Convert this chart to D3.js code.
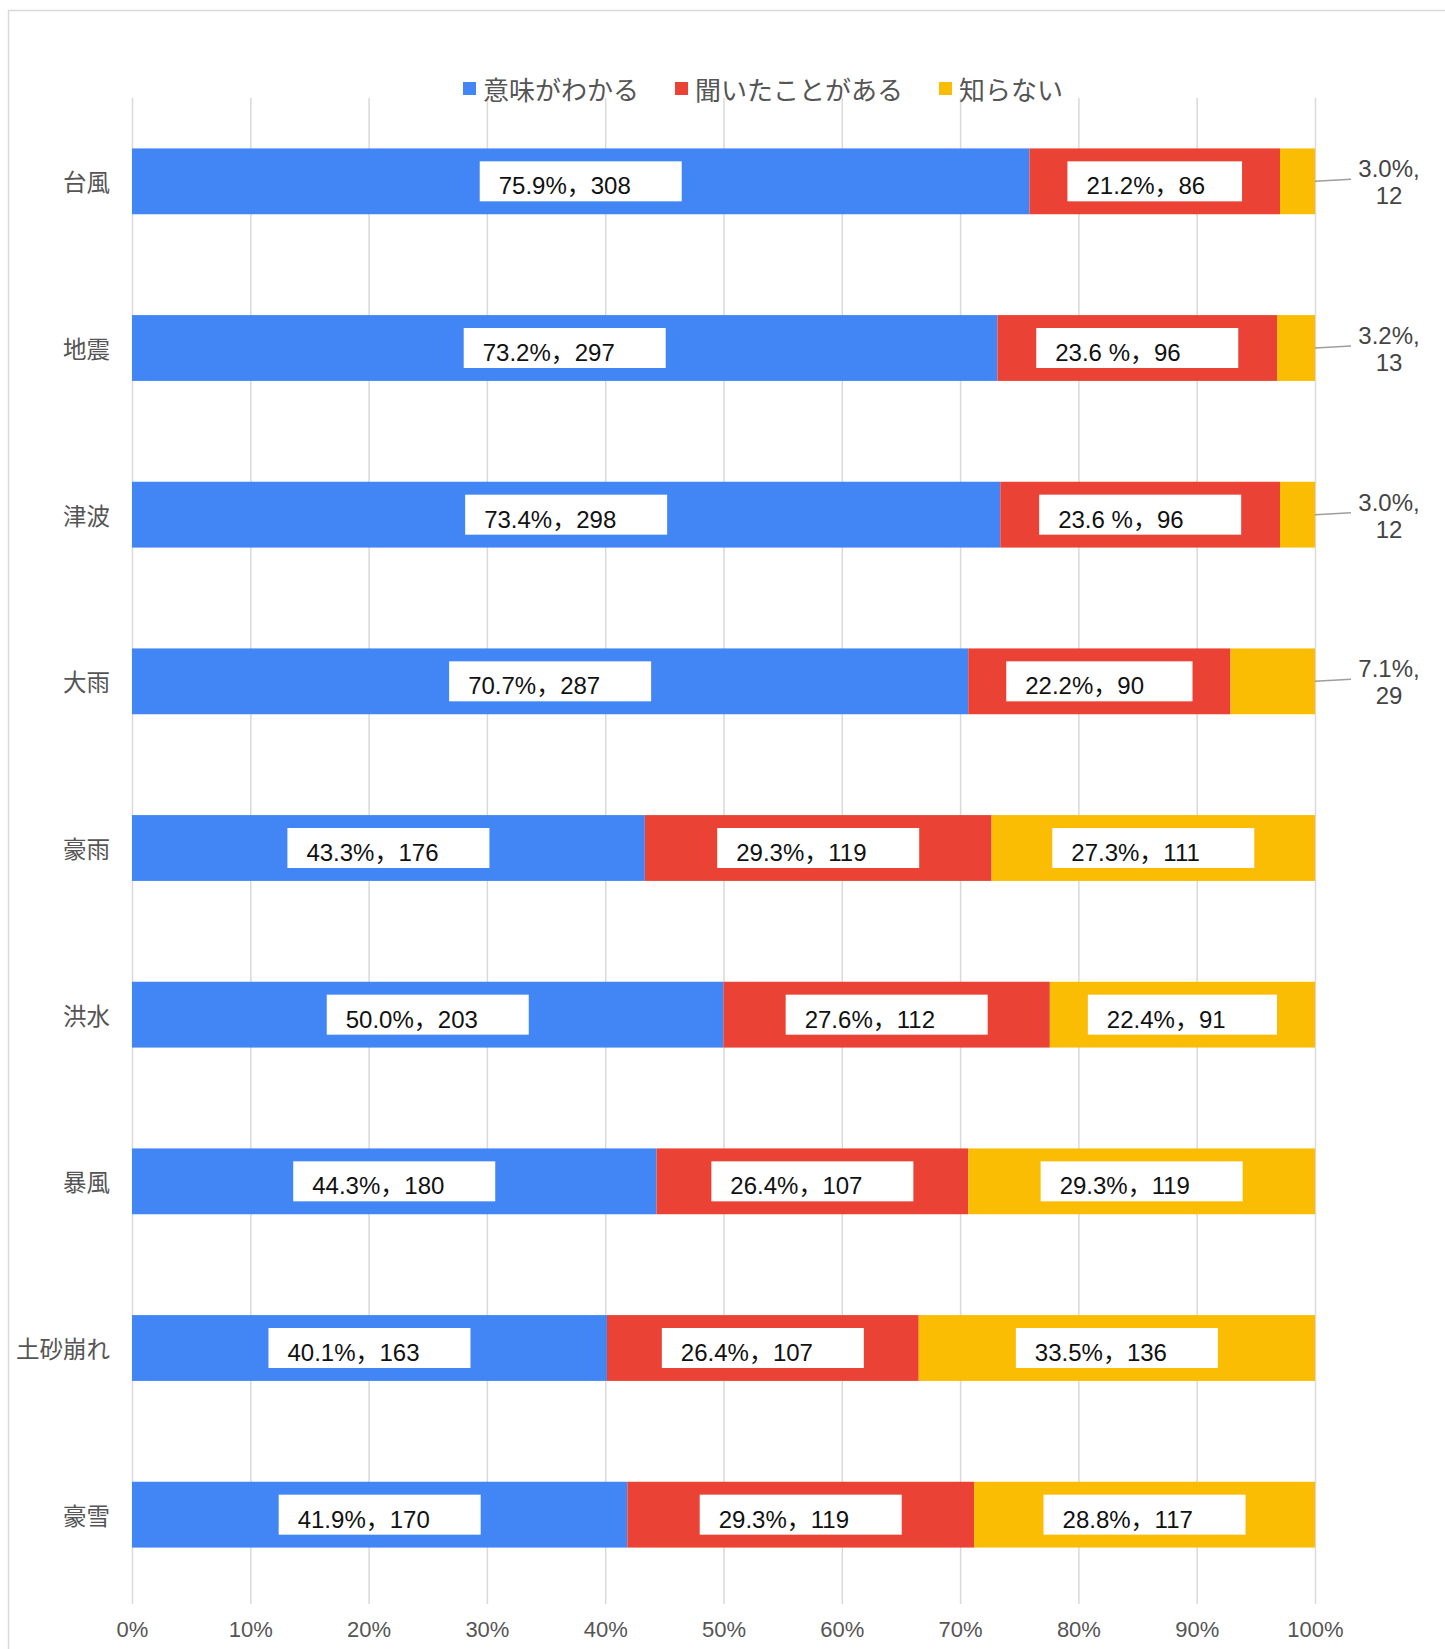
<!DOCTYPE html>
<html>
<head>
<meta charset="utf-8">
<script src="https://cdn.jsdelivr.net/npm/d3@7"></script>
<style>
  body { margin: 0; background: #fff; }
  svg { display: block; }
  text { font-family: "Liberation Sans", Arial, "Noto Sans CJK JP", sans-serif; }
  .cjk { font-family: "Noto Sans CJK JP", "Liberation Sans", sans-serif; }
</style>
</head>
<body>
<svg id="chart" width="1445" height="1649"></svg>
<script>
// categories (top to bottom)
const categories = ['台風', '地震', '津波', '大雨', '豪雨', '洪水', '暴風', '土砂崩れ', '豪雪'];

// series names
const seriesNames = ['意味がわかる', '聞いたことがある', '知らない'];
const seriesColors = ['#4285F4', '#EA4335', '#FBBC04'];

// respondent counts per series
const knowCounts = [308, 297, 298, 287, 176, 203, 180, 163, 170];
const heardCounts = [86, 96, 96, 90, 119, 112, 107, 107, 119];
const unknownCounts = [12, 13, 12, 29, 111, 91, 119, 136, 117];

// percentage labels as printed on the chart
const knowPct = ['75.9%', '73.2%', '73.4%', '70.7%', '43.3%', '50.0%', '44.3%', '40.1%', '41.9%'];
const heardPct = ['21.2%', '23.6 %', '23.6 %', '22.2%', '29.3%', '27.6%', '26.4%', '26.4%', '29.3%'];
const unknownPct = ['3.0%', '3.2%', '3.0%', '7.1%', '27.3%', '22.4%', '29.3%', '33.5%', '28.8%'];

// x axis ticks
const tickValues = [0, 0.1, 0.2, 0.3, 0.4, 0.5, 0.6, 0.7, 0.8, 0.9, 1];

const counts = [knowCounts, heardCounts, unknownCounts];
const pcts = [knowPct, heardPct, unknownPct];

const rows = categories.map((c, i) => ({
  cat: c,
  s0: knowCounts[i], s1: heardCounts[i], s2: unknownCounts[i]
}));

const stack = d3.stack()
  .keys(['s0', 's1', 's2'])
  .offset(d3.stackOffsetExpand);
const layers = stack(rows);

const svg = d3.select('#chart');

// outer frame
svg.append('rect')
  .attr('x', 8.5).attr('y', 10.5)
  .attr('width', 1460).attr('height', 1660)
  .attr('fill', 'none')
  .attr('stroke', '#d9d9d9')
  .attr('stroke-width', 1.5);

const gridTop = 98, gridBottom = 1604;
const x = d3.scaleLinear().domain([0, 1]).range([132, 1315]);
const y = d3.scaleBand().domain(categories).range([98, 1598])
  .paddingInner(0.605).paddingOuter(0.3025);

// gridlines + tick labels
const xAxis = d3.axisBottom(x)
  .tickValues(tickValues)
  .tickFormat(d3.format('.0%'))
  .tickSize(-(gridBottom - gridTop))
  .tickPadding(17);

const gx = svg.append('g')
  .attr('transform', `translate(0,${gridBottom})`)
  .call(xAxis);
gx.select('.domain').remove();
gx.selectAll('.tick line').attr('stroke', '#d9d9d9').attr('stroke-width', 1.5);
gx.selectAll('.tick text')
  .attr('fill', '#555')
  .style('font-size', '22px');

// category labels
svg.append('g').selectAll('text')
  .data(categories)
  .join('text')
  .attr('class', 'cjk')
  .attr('x', 110)
  .attr('y', d => y(d) + y.bandwidth() / 2)
  .attr('text-anchor', 'end')
  .attr('dominant-baseline', 'central')
  .attr('fill', '#555')
  .style('font-size', '23.5px')
  .text(d => d);

// bars
const layerG = svg.append('g').selectAll('g')
  .data(layers)
  .join('g')
  .attr('fill', (d, i) => seriesColors[i]);

layerG.selectAll('rect')
  .data(d => d)
  .join('rect')
  .attr('x', d => x(d[0]))
  .attr('y', d => y(d.data.cat))
  .attr('width', d => x(d[1]) - x(d[0]))
  .attr('height', y.bandwidth());

// data labels
const boxW = 202, boxH = 40, pad = 19;
const labelG = svg.append('g');

layers.forEach((layer, si) => {
  layer.forEach((d, ci) => {
    const x0 = x(d[0]), x1 = x(d[1]);
    const segW = x1 - x0;
    const yc = y(d.data.cat) + y.bandwidth() / 2;
    const pctTxt = pcts[si][ci];
    const n = counts[si][ci];
    if (segW > 120) {
      const w = Math.min(boxW, segW - 76);
      const bx = (x0 + x1) / 2 - w / 2;
      labelG.append('rect')
        .attr('x', bx).attr('y', yc - boxH / 2)
        .attr('width', w).attr('height', boxH)
        .attr('fill', '#fff');
      labelG.append('text')
        .attr('x', bx + pad)
        .attr('y', yc + boxH / 2 - 7)
        .attr('fill', '#111')
        .style('font-size', '24px')
        .text(pctTxt + '，' + n);
    } else {
      // outside label with leader line
      labelG.append('path')
        .attr('d', `M${x1},${yc} L${x1 + 36},${yc - 2}`)
        .attr('stroke', '#9e9e9e')
        .attr('stroke-width', 1.5)
        .attr('fill', 'none');
      const t = labelG.append('text')
        .attr('text-anchor', 'middle')
        .attr('fill', '#444')
        .style('font-size', '24px');
      t.append('tspan').attr('x', x1 + 74).attr('y', yc - 4).text(pctTxt + ',');
      t.append('tspan').attr('x', x1 + 74).attr('y', yc + 23).text(n);
    }
  });
});

// legend
const legend = svg.append('g');
let lx = 463;
seriesNames.forEach((name, i) => {
  legend.append('rect')
    .attr('x', lx).attr('y', 82)
    .attr('width', 13).attr('height', 13)
    .attr('fill', seriesColors[i]);
  const t = legend.append('text')
    .attr('class', 'cjk')
    .attr('x', lx + 20)
    .attr('y', 88)
    .attr('dominant-baseline', 'central')
    .attr('fill', '#555')
    .style('font-size', '26px')
    .text(name);
  lx += 20 + t.node().getComputedTextLength() + 36;
});
</script>
</body>
</html>
